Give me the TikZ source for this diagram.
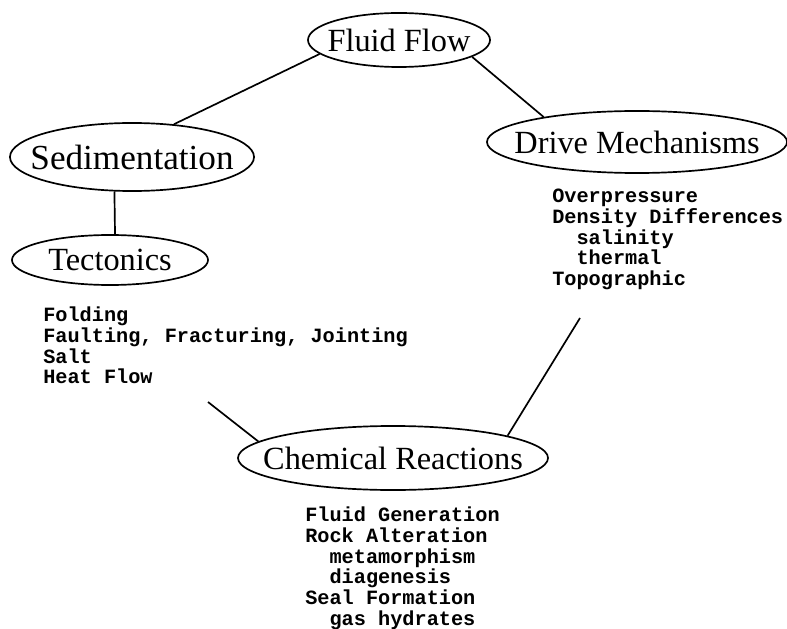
\documentclass[tikz,border=0pt]{standalone}
\usepackage{fontspec}
\setmainfont{Liberation Serif}
\setmonofont{Liberation Mono}
\usetikzlibrary{shapes.geometric}

\begin{document}
\begin{tikzpicture}[x=0.025cm, y=-0.025cm,
  bubble/.style={ellipse, draw=black, line width=1.2pt, inner xsep=-40pt, inner ysep=-20pt,
    font=\fontsize{23}{27}\selectfont},
  items/.style={anchor=north west, align=left, inner sep=0pt,
    font=\ttfamily\bfseries\fontsize{14.4}{14.7}\selectfont},
  link/.style={line width=1.2pt}]
\useasboundingbox (0,0) rectangle (787,629);

% the five topics
\node[bubble, minimum width=4.55cm, minimum height=1.35cm] (flow) at (399,40) {Fluid Flow};
\node[bubble, minimum width=6.1cm, minimum height=1.7cm, font=\fontsize{25}{29}\selectfont] (sed) at (132,157) {Sedimentation};
\node[bubble, minimum width=4.9cm, minimum height=1.25cm] (tect) at (110,260) {Tectonics};
\node[bubble, minimum width=7.5cm, minimum height=1.55cm] (drive) at (637,142) {Drive Mechanisms};
\node[bubble, minimum width=7.75cm, minimum height=1.6cm] (chem) at (393,458) {Chemical Reactions};

% the lists under them
\node[items] (drivelist) at (552,189) {Overpressure\\Density Differences\\\hspace*{1.2em}salinity\\\hspace*{1.2em}thermal\\Topographic};
\node[items] (tectlist) at (43,307) {Folding\\Faulting, Fracturing, Jointing\\Salt\\Heat Flow};
\node[items] (chemlist) at (305,507) {Fluid Generation\\Rock Alteration\\\hspace*{1.2em}metamorphism\\\hspace*{1.2em}diagenesis\\Seal Formation\\\hspace*{1.2em}gas hydrates};

% links
\coordinate (tectend) at (208,402);
\coordinate (driveend) at (580,318);
\draw[link] (flow.190) -- (sed.38);
\draw[link] (flow.347) -- (drive.165);
\draw[link] (sed.243) -- (tect.79);
\draw[link] (tectend) -- (chem.173);
\draw[link] (driveend) -- (chem.11);
\end{tikzpicture}
\end{document}
